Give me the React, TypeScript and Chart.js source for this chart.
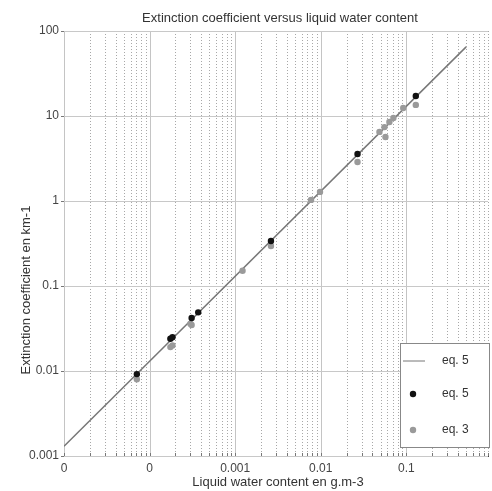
import React, { useEffect, useRef } from "react";
import { Chart, registerables } from "chart.js";

Chart.register(...registerables);

const chartTitle = "Extinction coefficient versus liquid water content";
const xTitle = "Liquid water content en g.m-3";
const yTitle = "Extinction coefficient en km-1";

const xTickValues = [1e-5, 1e-4, 1e-3, 1e-2, 1e-1];
const xTickLabels = ["0", "0", "0.001", "0.01", "0.1"];
const yTickValues = [0.001, 0.01, 0.1, 1, 10, 100];
const yTickLabels = ["0.001", "0.01", "0.1", "1", "10", "100"];

// eq. 5 fitted line
const lineX = [1e-5, 0.5];
const lineY = [0.0013, 65];

// eq. 5 points (black)
const eq5X = [7.1e-5, 1.75e-4, 1.85e-4, 3.1e-4, 3.7e-4, 0.00262, 0.0269, 0.129];
const eq5Y = [0.0092, 0.024, 0.025, 0.042, 0.049, 0.339, 3.57, 17.2];

// eq. 3 points (gray)
const eq3X = [7.1e-5, 1.75e-4, 1.85e-4, 3.0e-4, 3.1e-4, 0.00122, 0.00262, 0.0077, 0.0098, 0.0269, 0.0485, 0.0555, 0.057, 0.0634, 0.0706, 0.092, 0.129];
const eq3Y = [0.008, 0.0191, 0.02, 0.036, 0.0347, 0.151, 0.295, 1.03, 1.28, 2.88, 6.5, 7.4, 5.66, 8.5, 9.5, 12.4, 13.5];

const legendLabels = ["eq. 5", "eq. 5", "eq. 3"];

const FONT = "'Liberation Sans', Arial, sans-serif";

function pts(xs: number[], ys: number[]) {
  return xs.map((x, i) => ({ x, y: ys[i] }));
}

const decorPlugin = {
  id: "decor",
  beforeDatasetsDraw(chart: any) {
    const { ctx, chartArea: a, scales } = chart;
    const xs = scales.x;
    const ys = scales.y;
    ctx.save();
    for (let e = -5; e <= 0; e++) {
      for (let m = 1; m <= 9; m++) {
        const v = m * Math.pow(10, e);
        if (v < xs.min * 0.999 || v > xs.max * 1.001) continue;
        const px = Math.round(xs.getPixelForValue(v)) + 0.5;
        ctx.beginPath();
        ctx.lineWidth = 1;
        if (m === 1) {
          ctx.setLineDash([]);
          ctx.strokeStyle = "#c4c4c4";
        } else {
          ctx.setLineDash([1, 2]);
          ctx.strokeStyle = "#a8a8a8";
        }
        ctx.moveTo(px, a.top);
        ctx.lineTo(px, a.bottom);
        ctx.stroke();
        ctx.setLineDash([]);
        ctx.strokeStyle = "#777";
        ctx.beginPath();
        ctx.moveTo(px, a.bottom);
        ctx.lineTo(px, a.bottom - 3);
        ctx.stroke();
      }
    }
    ctx.setLineDash([]);
    yTickValues.forEach((v) => {
      const py = Math.round(ys.getPixelForValue(v)) + 0.5;
      ctx.strokeStyle = "#c8c8c8";
      ctx.beginPath();
      ctx.moveTo(a.left, py);
      ctx.lineTo(a.right, py);
      ctx.stroke();
      ctx.strokeStyle = "#777";
      ctx.beginPath();
      ctx.moveTo(a.left - 3, py);
      ctx.lineTo(a.left, py);
      ctx.stroke();
    });
    ctx.restore();
  },
  afterDraw(chart: any) {
    const { ctx } = chart;
    ctx.save();
    ctx.fillStyle = "#333";
    ctx.font = `13px ${FONT}`;
    ctx.textAlign = "center";
    ctx.textBaseline = "middle";
    ctx.fillText(chartTitle, 280, 18);
    ctx.fillText(xTitle, 278, 482);
    ctx.save();
    ctx.translate(26, 290);
    ctx.rotate(-Math.PI / 2);
    ctx.fillText(yTitle, 0, 0);
    ctx.restore();

    // legend
    const lx = 400, ly = 343, lw = 89, lh = 104;
    ctx.fillStyle = "#fff";
    ctx.fillRect(lx, ly, lw, lh);
    ctx.strokeStyle = "#888";
    ctx.lineWidth = 1;
    ctx.strokeRect(lx + 0.5, ly + 0.5, lw, lh);
    const rows = [361, 394, 430];
    ctx.strokeStyle = "#777";
    ctx.beginPath();
    ctx.moveTo(403, rows[0]);
    ctx.lineTo(425, rows[0]);
    ctx.stroke();
    ctx.fillStyle = "#111";
    ctx.beginPath();
    ctx.arc(413, rows[1], 3.2, 0, Math.PI * 2);
    ctx.fill();
    ctx.fillStyle = "#9a9a9a";
    ctx.beginPath();
    ctx.arc(413, rows[2], 3.2, 0, Math.PI * 2);
    ctx.fill();
    ctx.fillStyle = "#333";
    ctx.font = `12px ${FONT}`;
    ctx.textAlign = "left";
    legendLabels.forEach((t, i) => ctx.fillText(t, 442, rows[i]));
    ctx.restore();
  },
};

export default function App() {
  const ref = useRef<HTMLCanvasElement | null>(null);
  useEffect(() => {
    if (!ref.current) return;
    const chart = new Chart(ref.current, {
      type: "scatter",
      data: {
        datasets: [
          {
            label: "eq. 5",
            data: pts(eq5X, eq5Y),
            backgroundColor: "#111",
            borderColor: "#111",
            pointRadius: 3.2,
            pointBorderWidth: 0,
          },
          {
            label: "eq. 3",
            data: pts(eq3X, eq3Y),
            backgroundColor: "#9a9a9a",
            borderColor: "#9a9a9a",
            pointRadius: 3.2,
            pointBorderWidth: 0,
          },
          {
            label: "eq. 5 line",
            type: "line",
            data: pts(lineX, lineY),
            borderColor: "#777",
            borderWidth: 1.5,
            pointRadius: 0,
            showLine: true,
            fill: false,
          } as any,
        ],
      },
      options: {
        responsive: false,
        animation: false,
        layout: { padding: { left: 0, top: 31, right: 1, bottom: 0 } },
        plugins: {
          legend: { display: false },
          title: { display: false },
          tooltip: { enabled: false },
        },
        scales: {
          x: {
            type: "logarithmic",
            min: 1e-5,
            max: 0.9,
            grid: { display: false, drawTicks: false },
            border: { display: true, color: "#444", width: 1 },
            afterBuildTicks: (s: any) => {
              s.ticks = xTickValues.map((v) => ({ value: v, major: true }));
            },
            afterFit: (s: any) => {
              s.height = 35;
            },
            ticks: {
              autoSkip: false,
              maxRotation: 0,
              padding: 5,
              color: "#444",
              font: { family: FONT, size: 12 },
              callback: (v: any) => {
                const i = xTickValues.findIndex((t) => Math.abs(t - v) / t < 1e-6);
                return i >= 0 ? xTickLabels[i] : "";
              },
            },
          },
          y: {
            type: "logarithmic",
            min: 0.001,
            max: 100,
            grid: { display: false, drawTicks: false },
            border: { display: true, color: "#444", width: 1 },
            afterBuildTicks: (s: any) => {
              s.ticks = yTickValues.map((v) => ({ value: v, major: true }));
            },
            afterFit: (s: any) => {
              s.width = 64;
            },
            ticks: {
              autoSkip: false,
              padding: 5,
              color: "#444",
              font: { family: FONT, size: 12 },
              callback: (v: any) => {
                const i = yTickValues.findIndex((t) => Math.abs(t - v) / t < 1e-6);
                return i >= 0 ? yTickLabels[i] : "";
              },
            },
          },
        },
      },
      plugins: [decorPlugin],
    });
    return () => chart.destroy();
  }, []);
  return (
    <div style={{ position: "absolute", left: 0, top: 0, width: 492, height: 491, overflow: "hidden", background: "#fff" }}>
      <canvas ref={ref} width={492} height={491} style={{ width: 492, height: 491, display: "block" }} />
    </div>
  );
}
